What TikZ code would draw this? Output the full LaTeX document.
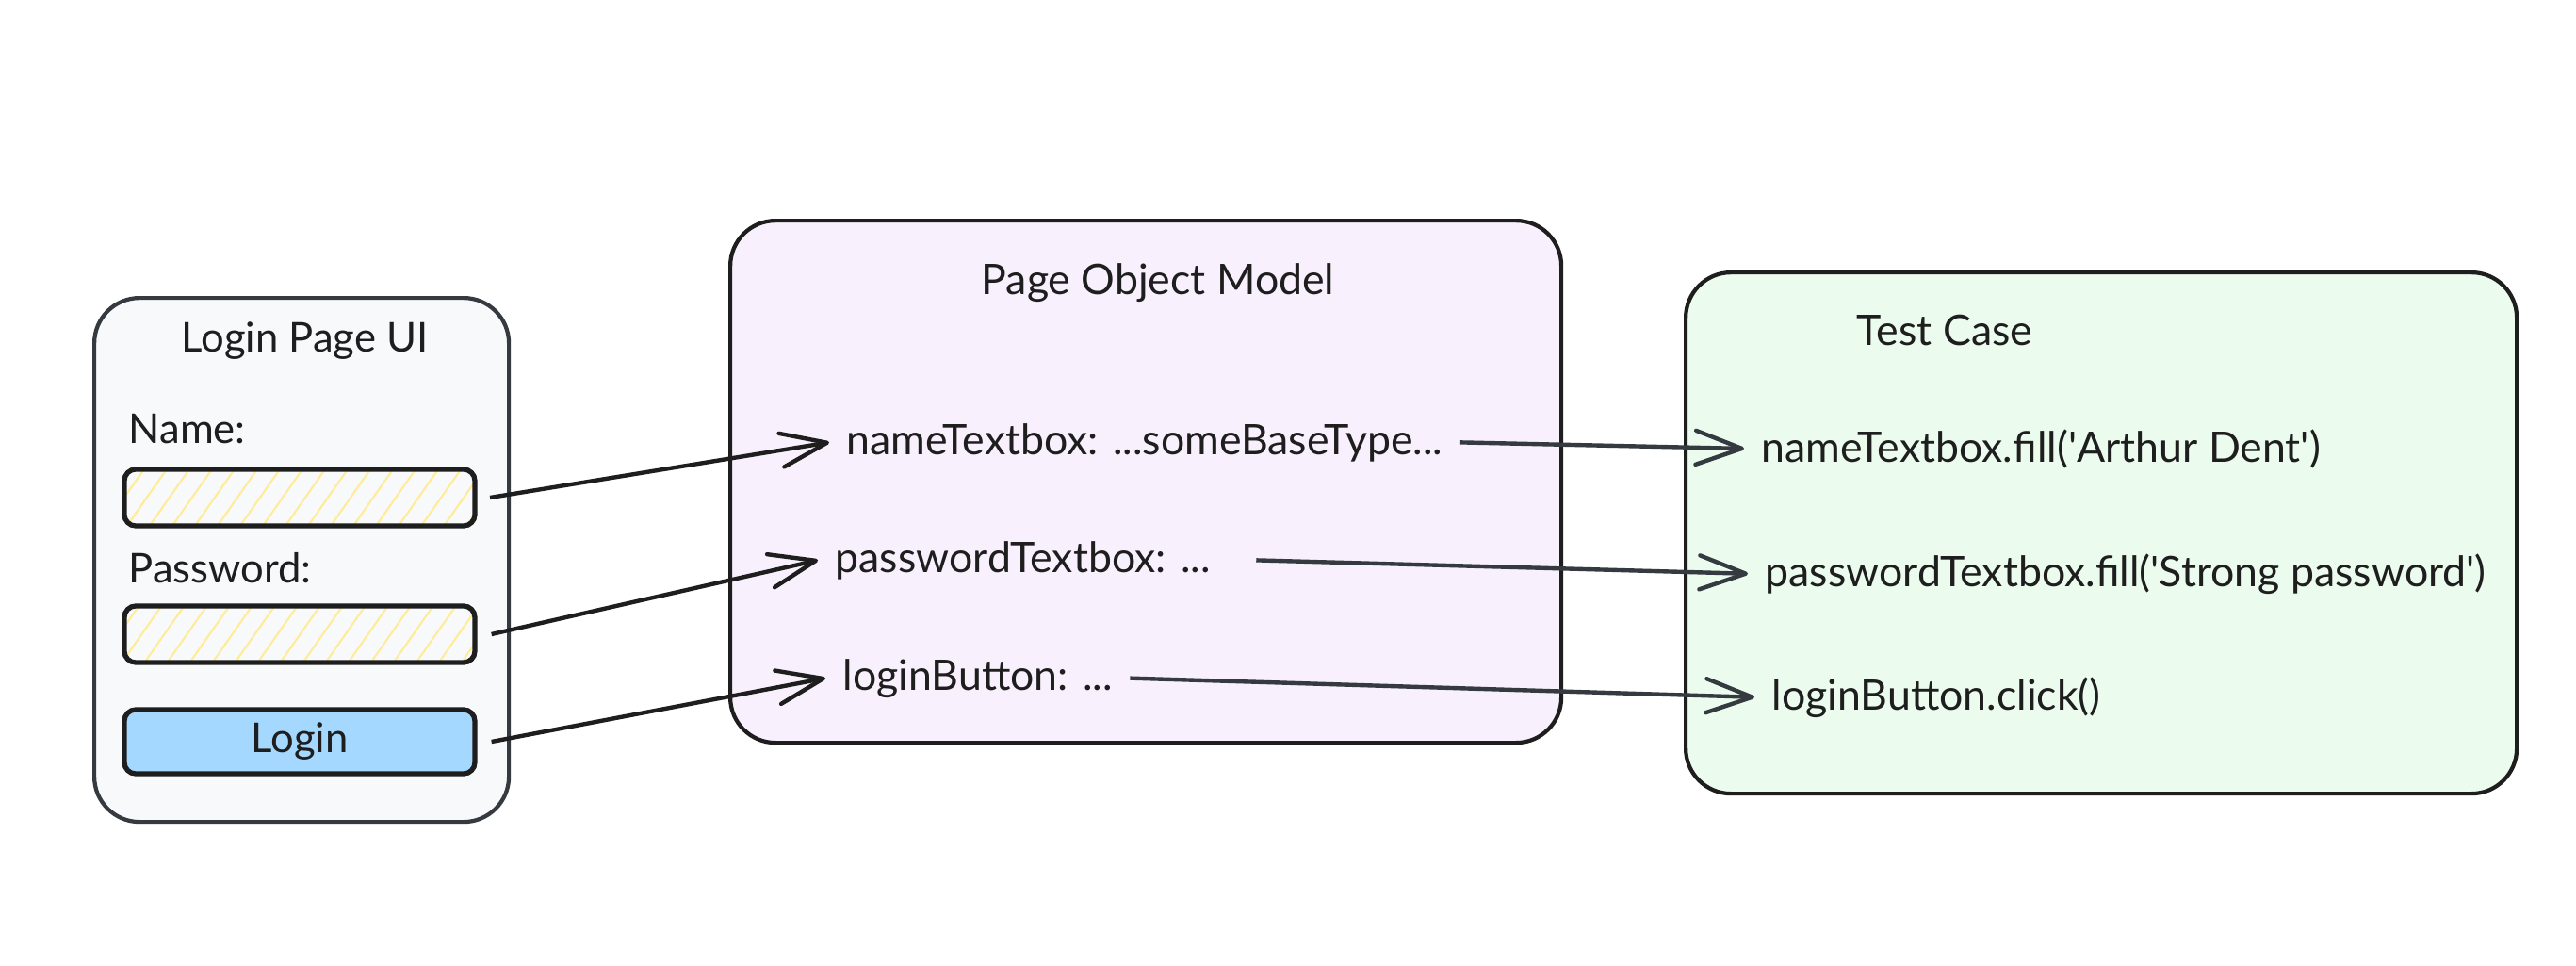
\documentclass[tikz,border=0pt]{standalone}
\usepackage{fontspec}
\setmainfont{Lato}
\usetikzlibrary{arrows.meta,positioning,patterns.meta}
\definecolor{ink}{HTML}{1E1E1E}
\definecolor{slate}{HTML}{343A40}
\definecolor{uigray}{HTML}{F8F9FA}
\definecolor{pomviolet}{HTML}{F8F0FC}
\definecolor{testgreen}{HTML}{EBFBEE}
\definecolor{hatch}{HTML}{FFEC99}
\definecolor{btnblue}{HTML}{A5D8FF}
\newcommand{\uifont}{\fontsize{12.4pt}{15pt}\selectfont}
\newcommand{\codefont}{\fontsize{12.7pt}{15pt}\selectfont}

\begin{document}
\begin{tikzpicture}[
    panel/.style={rectangle, rounded corners=0.48cm, line width=1.2pt, anchor=north west},
    field/.style={rectangle, rounded corners=0.12cm, draw=ink, line width=1.5pt, minimum width=3.72cm, minimum height=0.6cm},
    uitext/.style={font=\uifont, text=ink, inner sep=0pt},
    attr/.style={font=\codefont, text=ink, inner xsep=0.18cm, inner ysep=0pt, anchor=base west},
    link/.style={-{Straight Barb[length=4.9mm,width=3.6mm,round]}, line width=1.25pt, draw=ink},
    call/.style={link, draw=slate}
]
    \useasboundingbox (0,0) rectangle (27.34,-10.25);

    % the three panels
    \node[panel, draw=slate, fill=uigray, minimum width=4.40cm, minimum height=5.56cm] (ui) at (0.98,-3.14) {};
    \node[panel, draw=ink, fill=pomviolet, minimum width=8.82cm, minimum height=5.54cm] (pom) at (7.73,-2.32) {};
    \node[panel, draw=ink, fill=testgreen, minimum width=8.82cm, minimum height=5.53cm] (tc) at (17.87,-2.87) {};

    % login page
    \node[uitext, anchor=base] (uititle) at (3.235,-3.73) {Login Page UI};
    \node[uitext, anchor=base west] (namelabel) at (1.36,-4.70) {Name:};
    \node[field, pattern={Lines[angle=55,distance=5.6pt,line width=0.6pt]}, pattern color=hatch] (namefield) at (3.18,-5.28) {};
    \node[uitext, anchor=base west] (pwlabel) at (1.36,-6.18) {Password:};
    \node[field, pattern={Lines[angle=55,distance=5.6pt,line width=0.6pt]}, pattern color=hatch] (pwfield) at (3.18,-6.73) {};
    \node[field, fill=btnblue, minimum height=0.68cm, font=\uifont, text=ink] (loginbtn) at (3.18,-7.87) {Login};

    % page object model
    \node[font=\codefont, text=ink, inner sep=0pt, anchor=base] (pomtitle) at (12.29,-3.12) {Page Object Model};
    \node[attr] (nameattr) at (8.80,-4.82) {nameTextbox: ...someBaseType...};
    \node[attr] (pwattr) at (8.68,-6.07) {passwordTextbox: ...};
    \node[attr] (loginattr) at (8.76,-7.32) {loginButton: ...};

    % test case
    \node[font=\codefont, text=ink, inner sep=0pt, anchor=base] (tctitle) at (20.64,-3.66) {Test Case};
    \node[attr] (namefill) at (18.51,-4.90) {nameTextbox.fill(\textquotesingle Arthur Dent\textquotesingle)};
    \node[attr] (pwfill) at (18.55,-6.22) {passwordTextbox.fill(\textquotesingle Strong password\textquotesingle)};
    \node[attr] (loginclick) at (18.62,-7.53) {loginButton.click()};

    \draw[link] ([xshift=1.5mm]namefield.east) -- (nameattr.west);
    \draw[link] ([xshift=1.5mm]pwfield.east) -- (pwattr.west);
    \draw[link] ([xshift=1.5mm]loginbtn.east) -- (loginattr.west);
    \draw[call] (nameattr.east) -- (namefill.west);
    \draw[call] ([xshift=3mm]pwattr.east) -- (pwfill.west);
    \draw[call] (loginattr.east) -- (loginclick.west);
\end{tikzpicture}
\end{document}
